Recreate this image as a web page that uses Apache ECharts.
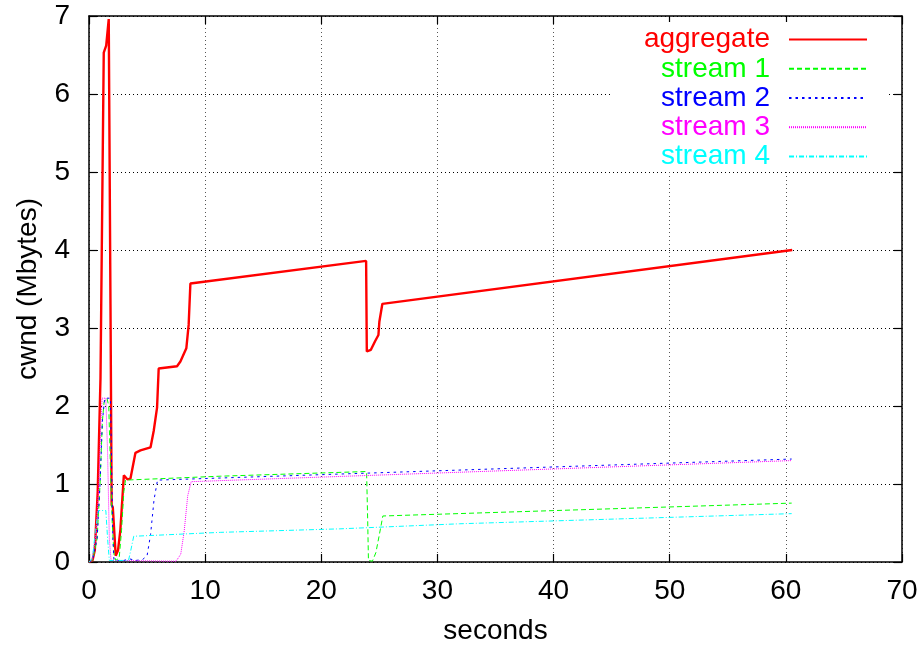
<!DOCTYPE html>
<html>
<head>
<meta charset="utf-8">
<title>cwnd over time</title>
<script src="https://cdn.jsdelivr.net/npm/echarts@6/dist/echarts.min.js"></script>
<style>
  html, body { margin: 0; padding: 0; background: #fff; }
  #chart { width: 922px; height: 650px; }
</style>
</head>
<body>
<div id="chart"></div>
<script>
// Congestion window samples: [seconds, Mbytes]
const aggregate = [
  [0, 0], [0.3, 0.02], [0.5, 0.15], [0.75, 0.9], [0.99, 2.36], [1.05, 3.25],
  [1.27, 6.53], [1.48, 6.62], [1.70, 6.96], [1.85, 3.3], [1.95, 0.73],
  [2.05, 0.70], [2.12, 0.72], [2.3, 0.08], [2.5, 0.15], [2.7, 0.41],
  [3.0, 1.11], [3.3, 1.06], [3.57, 1.07], [4.0, 1.40], [4.43, 1.43],
  [5.3, 1.47], [5.57, 1.68], [5.86, 1.98], [6.0, 2.48], [7.58, 2.51],
  [7.87, 2.57], [8.38, 2.74], [8.58, 3.04], [8.73, 3.57], [23.86, 3.86],
  [23.92, 2.70], [24.27, 2.72], [24.63, 2.83], [24.92, 2.91], [25.0, 3.08],
  [25.26, 3.31], [60.55, 4.0]
];
const stream1 = [
  [0, 0], [0.3, 0.02], [0.7, 0.3], [0.95, 1.0], [1.15, 1.8], [1.3, 2.05],
  [1.55, 2.1], [1.7, 2.0], [1.85, 1.2], [2.0, 0.5], [2.15, 0.1], [2.3, 0.02],
  [2.6, 0.05], [2.8, 0.4], [3.0, 0.9], [3.14, 1.05], [11.3, 1.10],
  [23.9, 1.16], [24.0, 0.5], [24.06, 0.02], [24.4, 0.01], [24.7, 0.12],
  [25.0, 0.35], [25.3, 0.59], [60.5, 0.755]
];
const stream2 = [
  [0, 0], [0.3, 0.02], [0.7, 0.3], [0.95, 1.0], [1.15, 1.8], [1.35, 2.1],
  [1.85, 2.1], [1.95, 1.2], [2.05, 0.3], [2.15, 0.02], [3.0, 0.02],
  [3.5, 0.04], [4.0, 0.02], [4.6, 0.03], [5.0, 0.08], [5.3, 0.35],
  [5.6, 0.8], [5.9, 1.05], [60.5, 1.32]
];
const stream3 = [
  [0, 0], [0.25, 0.02], [0.6, 0.35], [0.85, 1.0], [1.0, 1.7], [1.13, 2.1],
  [1.45, 2.1], [1.6, 1.4], [1.75, 0.3], [1.9, 0.02], [7.5, 0.01],
  [7.9, 0.1], [8.2, 0.4], [8.5, 0.85], [8.8, 1.03], [60.5, 1.30]
];
const stream4 = [
  [0, 0], [0.3, 0.05], [0.55, 0.4], [0.8, 0.66], [1.45, 0.66], [1.6, 0.3],
  [1.75, 0.02], [3.4, 0.02], [3.6, 0.15], [3.85, 0.33], [11.3, 0.38],
  [21.6, 0.425], [31.9, 0.49], [60.5, 0.62]
];

const seriesNames = ['aggregate', 'stream 1', 'stream 2', 'stream 3', 'stream 4'];
const seriesData = [aggregate, stream1, stream2, stream3, stream4];
const seriesColors = ['#ff0000', '#00ff00', '#0000ff', '#ff00ff', '#00ffff'];
const seriesDash = ['solid', [5, 3], [2.5, 4], [1, 1], [5, 2, 1, 2]];
const seriesWidth = [2.4, 1, 1, 1, 1];

const FONT = '"Liberation Sans", Arial, Helvetica, sans-serif';

const chart = echarts.init(document.getElementById('chart'), null, { renderer: 'canvas' });

const tickStyle = { show: true, inside: true, length: 8, lineStyle: { color: '#000', width: 1.2 } };
const lineStyle = { show: true, onZero: false, lineStyle: { color: '#000', width: 1.5 } };

chart.setOption({
  animation: false,
  backgroundColor: '#fff',
  grid: { left: 89, right: 20, top: 16, bottom: 85, containLabel: false },
  legend: {
    orient: 'vertical',
    align: 'right',
    right: 34,
    top: 22,
    padding: [3, 20, 0, 32],
    backgroundColor: '#fff',
    itemWidth: 78,
    itemHeight: 10,
    itemGap: 0,
    // line sample only, no point marker
    itemStyle: { opacity: 0 },
    textStyle: { fontFamily: FONT, fontSize: 28, lineHeight: 29.2, padding: [0, 14, 0, 0] },
    data: seriesNames.map((n, i) => ({ name: n, textStyle: { color: seriesColors[i] } }))
  },
  xAxis: [
    {
      type: 'value', min: 0, max: 70, interval: 10, position: 'bottom',
      name: 'seconds', nameLocation: 'middle', nameGap: 55,
      nameTextStyle: { fontFamily: FONT, fontSize: 28, color: '#000' },
      axisLine: lineStyle, axisTick: tickStyle,
      axisLabel: { fontFamily: FONT, fontSize: 28, color: '#000', margin: 15 },
      splitLine: { show: true, lineStyle: { color: '#555', type: [1, 3], width: 1 } }
    },
    {
      type: 'value', min: 0, max: 70, interval: 10, position: 'top',
      axisLine: lineStyle, axisTick: tickStyle,
      axisLabel: { show: false }, splitLine: { show: false }
    }
  ],
  yAxis: [
    {
      type: 'value', min: 0, max: 7, interval: 1, position: 'left',
      name: 'cwnd (Mbytes)', nameLocation: 'middle', nameGap: 47,
      nameTextStyle: { fontFamily: FONT, fontSize: 28, color: '#000' },
      axisLine: lineStyle, axisTick: tickStyle,
      axisLabel: { fontFamily: FONT, fontSize: 28, color: '#000', margin: 19 },
      splitLine: { show: true, lineStyle: { color: '#000', type: [1, 3], width: 1 } }
    },
    {
      type: 'value', min: 0, max: 7, interval: 1, position: 'right',
      axisLine: lineStyle, axisTick: tickStyle,
      axisLabel: { show: false }, splitLine: { show: false }
    }
  ],
  series: seriesNames.map((n, i) => ({
    name: n,
    type: 'line',
    xAxisIndex: 0,
    yAxisIndex: 0,
    data: seriesData[i],
    showSymbol: false,
    symbol: 'none',
    color: seriesColors[i],
    lineStyle: { color: seriesColors[i], width: seriesWidth[i], type: seriesDash[i] },
    z: 2 + i
  }))
});
</script>
</body>
</html>
